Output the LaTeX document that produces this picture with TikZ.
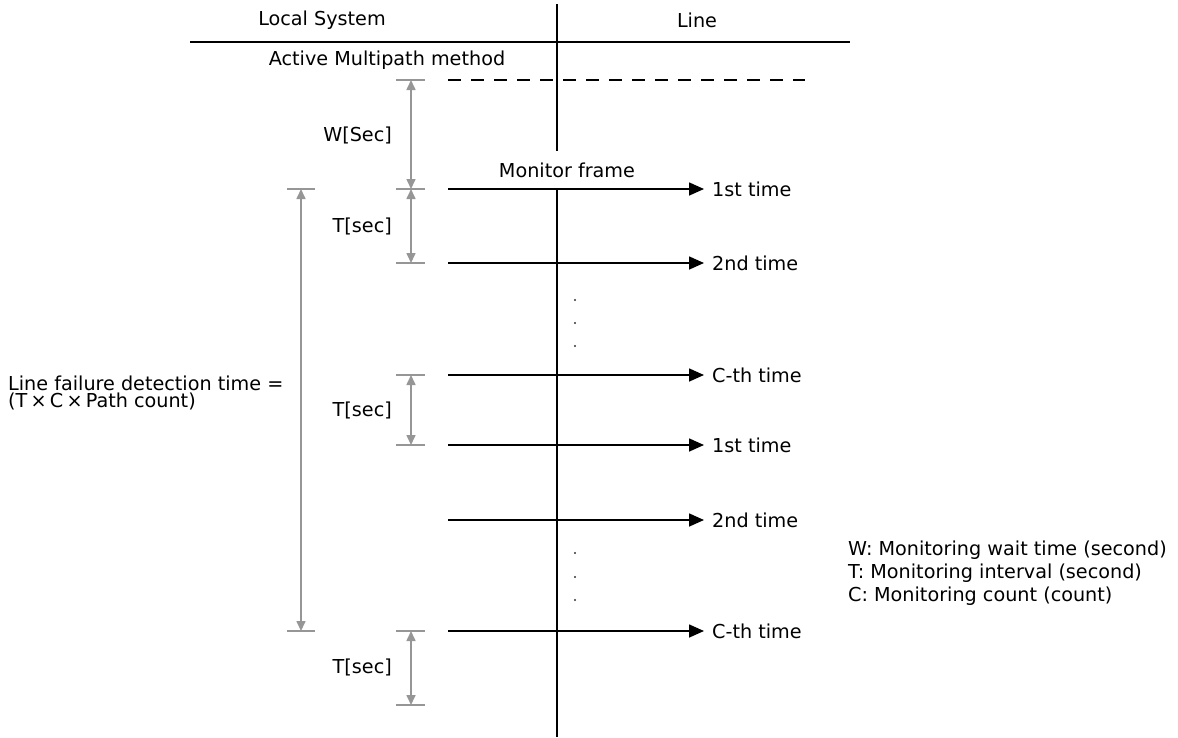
\documentclass[tikz,border=0pt]{standalone}
\usepackage{fontspec}
\setmainfont{DejaVu Sans}
\usetikzlibrary{arrows.meta}
\definecolor{dimgray}{RGB}{150,150,150}
\tikzset{
  lbl/.style={inner sep=0pt, font=\fontsize{19.2}{22}\selectfont},
  blk/.style={draw=black, line width=1.6pt},
  framearrow/.style={blk, -{Triangle[length=15pt,width=13pt]}},
  dimarrow/.style={draw=dimgray, line width=1.6pt, {Triangle[length=10pt,width=9pt]}-{Triangle[length=10pt,width=9pt]}},
  ticks/.style={draw=dimgray, line width=1.6pt},
  dashline/.style={draw=black, line width=1.6pt, dash pattern=on 13pt off 10pt},
  dotmark/.style={fill=black!80},
}
\begin{document}
\begin{tikzpicture}[x=1pt,y=-1pt]
\useasboundingbox (0,0) rectangle (1178,737);
% header
\node[lbl] (hls) at (322,20) {Local System};
\node[lbl] (hline) at (697,20) {Line};
\coordinate (hl1) at (190,42);
\coordinate (hl2) at (850,42);
\draw[blk] (hl1) -- (hl2);
\node[lbl] (amm) at (387,60) {Active Multipath method};
% vertical line
\coordinate (v0) at (557,4);
\coordinate (v1) at (557,151);
\coordinate (v2) at (557,189);
\coordinate (v3) at (557,737);
\draw[blk] (v0) -- (v1);
\draw[blk] (v2) -- (v3);
% dashed line
\coordinate (d1) at (448,80);
\coordinate (d2) at (805,80);
\draw[dashline] (d1) -- (d2);
\node[lbl] (mf) at (567,170) {Monitor frame};
% frame arrows and labels
\foreach \n/\y/\t in {a/189/1st time, b/263/2nd time, c/375/C-th time, d/445/1st time, e/520/2nd time, f/631/C-th time}{
  \coordinate (s\n) at (448,\y);
  \coordinate (e\n) at (704,\y);
  \draw[framearrow] (s\n) -- (e\n);
  \node[lbl, anchor=west] (l\n) at (712,\y) {\t};
}
% dots
\foreach \y [count=\i] in {300,323,346,553,577,600}{
  \coordinate (dt\i) at (575,\y);
  \fill[dotmark] (dt\i) circle (1.2);
}
% dimension ticks (right column)
\foreach \n/\y in {t1/80, t2/189, t3/263, t4/375, t5/445, t6/631, t7/705}{
  \coordinate (\n a) at (396,\y);
  \coordinate (\n b) at (425,\y);
  \coordinate (\n m) at (411,\y);
  \draw[ticks] (\n a) -- (\n b);
}
\draw[dimarrow] (t1m) -- (t2m);
\draw[dimarrow] (t2m) -- (t3m);
\draw[dimarrow] (t4m) -- (t5m);
\draw[dimarrow] (t6m) -- (t7m);
\node[lbl, anchor=east] (wsec) at (392,135) {W[Sec]};
\node[lbl, anchor=east] (ts1) at (392,226) {T[sec]};
\node[lbl, anchor=east] (ts2) at (392,410) {T[sec]};
\node[lbl, anchor=east] (ts3) at (392,667) {T[sec]};
% big arrow
\coordinate (ba) at (287,189);
\coordinate (bb) at (315,189);
\coordinate (bc) at (287,631);
\coordinate (bd) at (315,631);
\coordinate (bt) at (301,189);
\coordinate (bm) at (301,631);
\draw[ticks] (ba) -- (bb);
\draw[ticks] (bc) -- (bd);
\draw[dimarrow] (bt) -- (bm);
\node[lbl, anchor=west] (lfd1) at (8,383) {Line failure detection time =};
\node[lbl, anchor=west] (lfd2) at (8,401) {(T\,×\,C\,×\,Path count)};
% legend
\node[lbl, anchor=west] (lg1) at (848,550) {W: Monitoring wait time (second)};
\node[lbl, anchor=west] (lg2) at (848,573) {T: Monitoring interval (second)};
\node[lbl, anchor=west] (lg3) at (848,596) {C: Monitoring count (count)};
\end{tikzpicture}
\end{document}
